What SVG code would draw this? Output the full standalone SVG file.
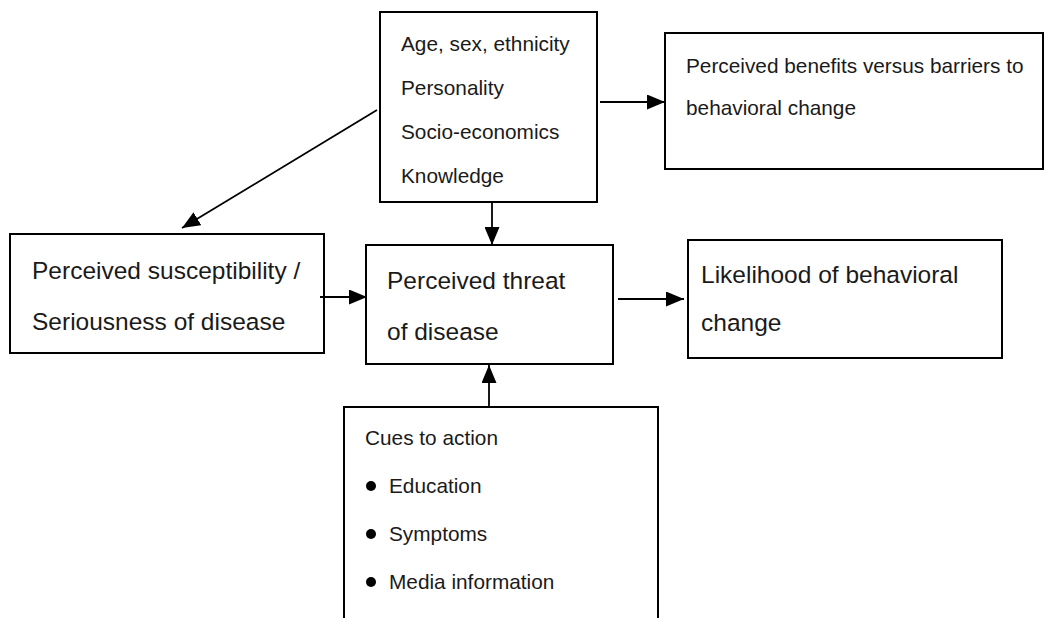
<svg xmlns="http://www.w3.org/2000/svg" width="1045" height="618" viewBox="0 0 1045 618">
<style>
.box{fill:#fff;stroke:#000;stroke-width:2}
.t{font-family:"Liberation Sans",Arial,sans-serif;fill:#1a1a1a}
.s{font-size:20.8px}
.l{font-size:24.5px}
.c{stroke:#000;stroke-width:1.8;fill:none}
</style>
<defs>
<marker id="ah" markerUnits="userSpaceOnUse" markerWidth="18" markerHeight="15" refX="18" refY="7.5" orient="auto">
<path d="M0,0 L18,7.5 L0,15 z" fill="#000"/>
</marker>
</defs>
<rect width="1045" height="618" fill="#fff"/>
<g id="factors">
<rect class="box" x="380" y="12" width="217" height="190"/>
<text class="t s" x="401" y="51">Age, sex, ethnicity</text>
<text class="t s" x="401" y="95">Personality</text>
<text class="t s" x="401" y="139">Socio-economics</text>
<text class="t s" x="401" y="183">Knowledge</text>
</g>
<g id="benefits">
<rect class="box" x="665" y="33" width="378" height="136"/>
<text class="t s" x="686" y="73">Perceived benefits versus barriers to</text>
<text class="t s" x="686" y="115">behavioral change</text>
</g>
<g id="susceptibility">
<rect class="box" x="10" y="234" width="314" height="119"/>
<text class="t l" x="32" y="279">Perceived susceptibility /</text>
<text class="t l" x="32" y="330">Seriousness of disease</text>
</g>
<g id="threat">
<rect class="box" x="366" y="245" width="247" height="119"/>
<text class="t l" x="387" y="289">Perceived threat</text>
<text class="t l" x="387" y="340">of disease</text>
</g>
<g id="likelihood">
<rect class="box" x="688" y="240" width="314" height="118"/>
<text class="t l" x="701" y="283">Likelihood of behavioral</text>
<text class="t l" x="701" y="331">change</text>
</g>
<g id="cues">
<rect class="box" x="344" y="407" width="314" height="230"/>
<text class="t s" x="365" y="445">Cues to action</text>
<circle cx="371" cy="486" r="5" fill="#000"/>
<text class="t s" x="389" y="493">Education</text>
<circle cx="371" cy="534" r="5" fill="#000"/>
<text class="t s" x="389" y="541">Symptoms</text>
<circle cx="371" cy="582" r="5" fill="#000"/>
<text class="t s" x="389" y="589">Media information</text>
</g>
<g id="connectors">
<line class="c" x1="600" y1="102" x2="665" y2="102" marker-end="url(#ah)"/>
<line class="c" x1="377" y1="110" x2="182" y2="228" marker-end="url(#ah)"/>
<line class="c" x1="492" y1="202" x2="492" y2="245" marker-end="url(#ah)"/>
<line class="c" x1="320" y1="297" x2="367" y2="297" marker-end="url(#ah)"/>
<line class="c" x1="618" y1="299" x2="684" y2="299" marker-end="url(#ah)"/>
<line class="c" x1="489" y1="407" x2="489" y2="365" marker-end="url(#ah)"/>
</g>
</svg>
